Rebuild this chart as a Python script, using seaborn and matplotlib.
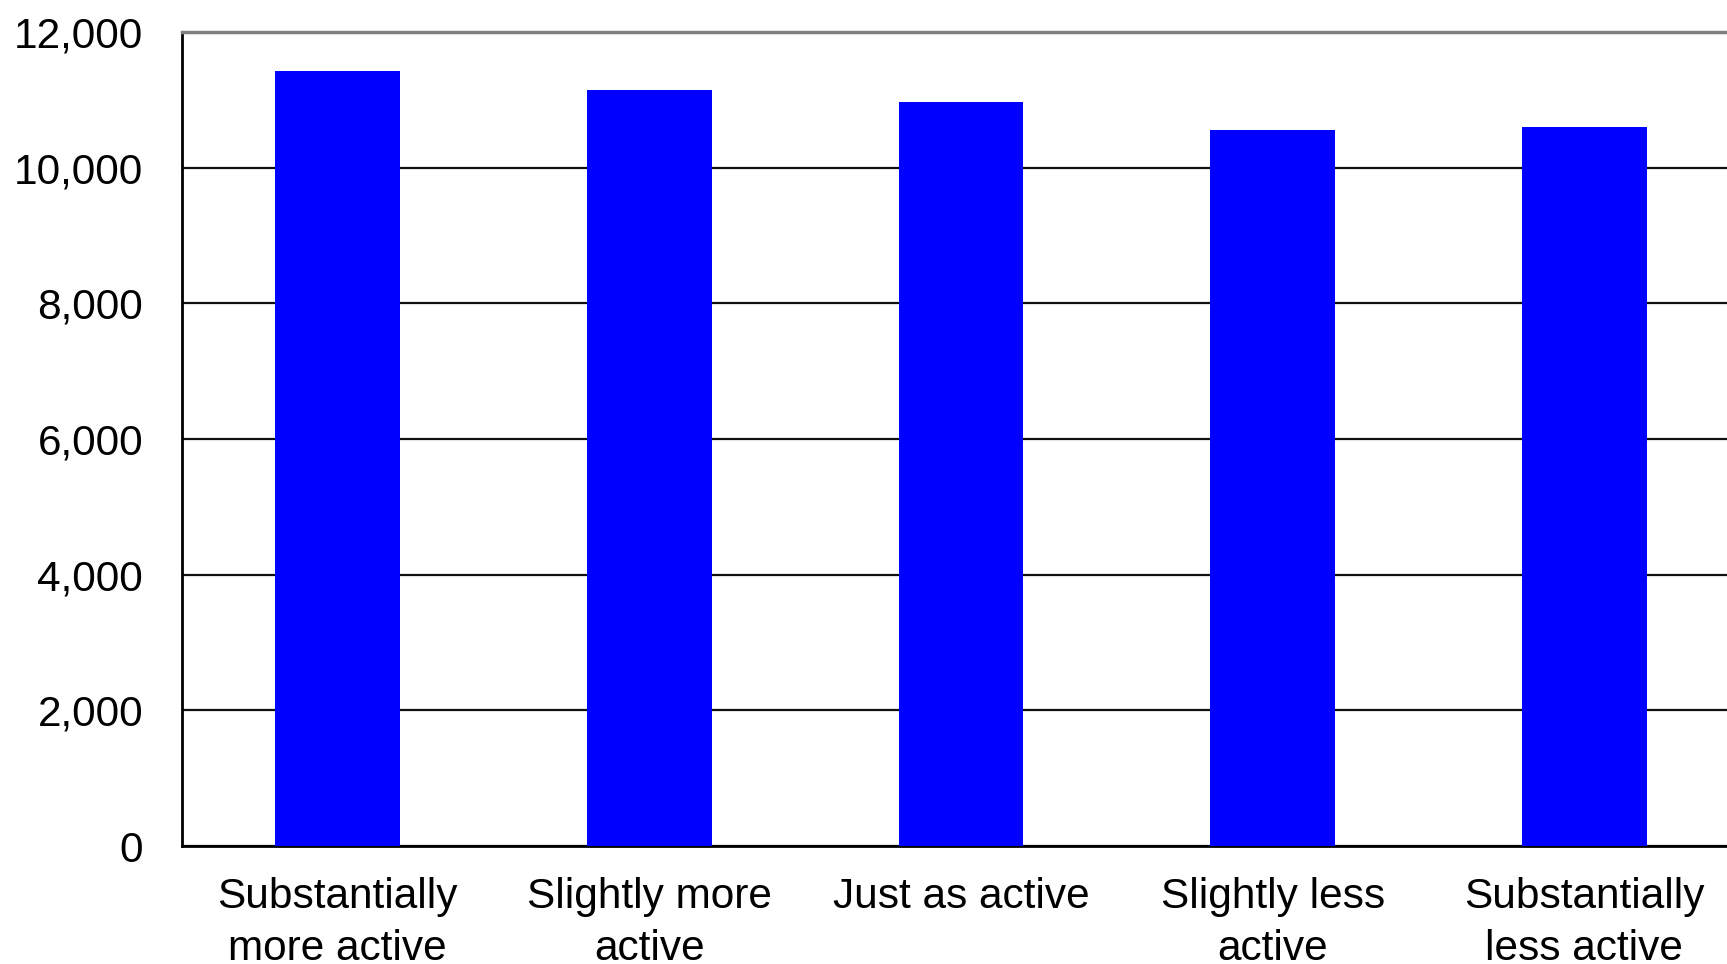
import matplotlib
matplotlib.use("Agg")
import matplotlib.pyplot as plt
import seaborn as sns
import pandas as pd
from matplotlib.ticker import FuncFormatter

categories = ["Substantially\nmore active", "Slightly more\nactive", "Just as active",
              "Slightly less\nactive", "Substantially\nless active"]
values = [11420, 11145, 10970, 10560, 10595]
yticks = [0, 2000, 4000, 6000, 8000, 10000, 12000]

df = pd.DataFrame({"category": categories, "value": values})

sns.set_theme(style="white")
plt.rcParams['font.family'] = ['Liberation Sans', 'DejaVu Sans']

W, H = 1727, 964
fig = plt.figure(figsize=(W / 100, H / 100), dpi=100)
left, right, top, bottom = 182, 1740, 32, 846
ax = fig.add_axes([left / W, 1 - bottom / H, (right - left) / W, (bottom - top) / H])

sns.barplot(data=df, x="category", y="value", color="#0000FF", saturation=1,
            width=0.4, ax=ax, zorder=3, linewidth=0, edgecolor="#0000FF")

ax.set_xlim(-0.5, 4.5)
ax.set_ylim(0, 12000)
ax.set_yticks(yticks)
ax.yaxis.set_major_formatter(FuncFormatter(lambda v, p: f"{int(v):,}"))
ax.grid(axis="y", color="#111111", linewidth=1.6, zorder=0)
ax.set_axisbelow(True)
ax.set_xlabel("")
ax.set_ylabel("")

for s in ["left", "bottom"]:
    ax.spines[s].set_color("#000000")
    ax.spines[s].set_linewidth(2)
ax.spines["top"].set_color("#808080")
ax.spines["top"].set_linewidth(2.5)
ax.spines["right"].set_visible(False)

ax.tick_params(axis="y", length=0, pad=28, labelsize=30.5, colors="#000000")
ax.tick_params(axis="x", length=0, pad=22, labelsize=30.5, colors="#000000")
for t in ax.get_xticklabels():
    t.set_linespacing(1.4)
    t.set_horizontalalignment("center")

fig.savefig("out.png", dpi=100)
